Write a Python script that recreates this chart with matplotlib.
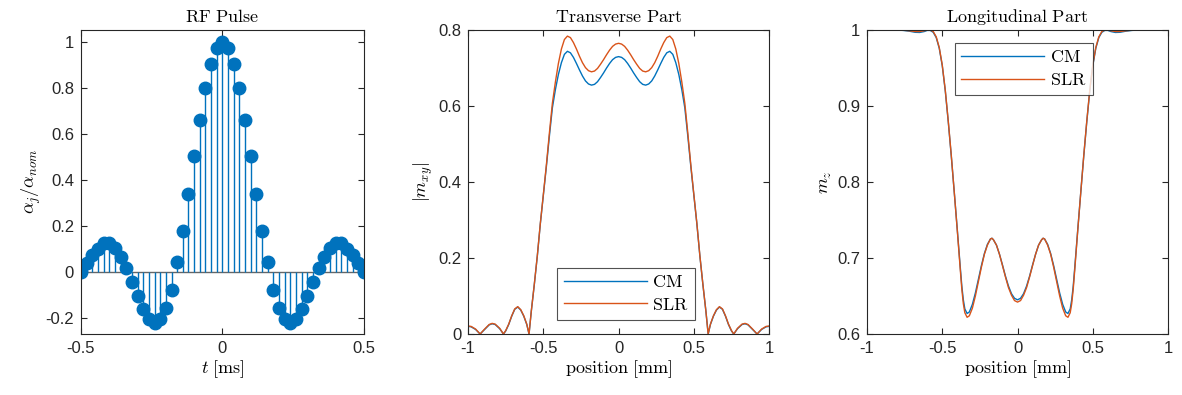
import numpy as np
import matplotlib
matplotlib.use('Agg')
import matplotlib.pyplot as plt
from matplotlib.ticker import FormatStrFormatter

plt.rcParams['mathtext.fontset'] = 'cm'
plt.rcParams['font.family'] = ['Liberation Sans', 'DejaVu Sans']
plt.rcParams['axes.unicode_minus'] = False

# --- RF pulse samples (t >= 0 half, pulse is symmetric) ---
t_half = np.arange(0, 0.501, 0.02)
rf_half = [1.0, 0.974, 0.907, 0.80, 0.663, 0.504, 0.34, 0.182, 0.043,
           -0.075, -0.155, -0.204, -0.22, -0.203, -0.159, -0.104, -0.042,
           0.019, 0.069, 0.106, 0.127, 0.127, 0.103, 0.077, 0.04, 0.0]

# --- transverse profile, position >= 0 half ---
pos_xy = [0, 0.02, 0.04, 0.06, 0.08, 0.10, 0.12, 0.14, 0.16, 0.18, 0.20,
          0.22, 0.24, 0.26, 0.28, 0.30, 0.32, 0.34, 0.36, 0.38, 0.40, 0.42,
          0.44, 0.46, 0.48, 0.50, 0.52, 0.54, 0.56, 0.58, 0.595,
          0.61, 0.63, 0.65, 0.67, 0.69, 0.71, 0.73, 0.75, 0.765,
          0.79, 0.82, 0.84, 0.86, 0.89, 0.92, 0.95, 0.98, 1.0]
mxy_cm = [0.730, 0.728, 0.722, 0.712, 0.700, 0.687, 0.675, 0.664, 0.657,
          0.655, 0.658, 0.666, 0.679, 0.695, 0.712, 0.728, 0.740, 0.744,
          0.736, 0.714, 0.683, 0.643, 0.595, 0.520, 0.440, 0.365, 0.290,
          0.205, 0.130, 0.060, 0.0,
          0.025, 0.047, 0.063, 0.071, 0.065, 0.047, 0.025, 0.008, 0.0,
          0.014, 0.025, 0.027, 0.024, 0.012, 0.0, 0.012, 0.019, 0.020]
mxy_slr = [0.765, 0.763, 0.757, 0.747, 0.735, 0.722, 0.710, 0.699, 0.692,
           0.690, 0.693, 0.701, 0.714, 0.731, 0.750, 0.767, 0.780, 0.784,
           0.775, 0.750, 0.712, 0.663, 0.607, 0.528, 0.444, 0.367, 0.291,
           0.206, 0.131, 0.060, 0.0,
           0.026, 0.048, 0.064, 0.072, 0.066, 0.048, 0.026, 0.009, 0.0,
           0.015, 0.026, 0.028, 0.025, 0.013, 0.0, 0.013, 0.020, 0.021]

# --- longitudinal profile, position >= 0 half ---
pos_mz = [0, 0.02, 0.04, 0.06, 0.08, 0.10, 0.12, 0.14, 0.16, 0.17, 0.18,
          0.20, 0.22, 0.24, 0.26, 0.28, 0.30, 0.32, 0.335, 0.35, 0.36, 0.37,
          0.38, 0.39, 0.40, 0.42, 0.44, 0.46, 0.48, 0.50, 0.52, 0.54, 0.56,
          0.58, 0.60, 0.62, 0.65, 0.68, 0.72, 0.76, 0.80, 0.90, 1.0]
mz_cm = [0.645, 0.647, 0.653, 0.663, 0.676, 0.691, 0.705, 0.717, 0.724,
         0.726, 0.725, 0.718, 0.706, 0.690, 0.672, 0.654, 0.639, 0.629,
         0.627, 0.633, 0.645, 0.663, 0.687, 0.712, 0.737, 0.786, 0.834,
         0.879, 0.920, 0.953, 0.976, 0.990, 0.997, 0.9995, 0.9995, 0.998,
         0.9968, 0.997, 0.9985, 0.9995, 1.0, 1.0, 1.0]
mz_slr = [0.642, 0.644, 0.651, 0.661, 0.675, 0.690, 0.705, 0.717, 0.724,
          0.726, 0.725, 0.717, 0.705, 0.688, 0.669, 0.650, 0.634, 0.624,
          0.622, 0.628, 0.640, 0.659, 0.684, 0.710, 0.736, 0.786, 0.835,
          0.880, 0.921, 0.954, 0.977, 0.991, 0.998, 1.0, 1.0, 0.999,
          0.998, 0.998, 0.999, 0.9998, 1.0, 1.0, 1.0]


def mirror(x, y):
    x = np.asarray(x, float)
    y = np.asarray(y, float)
    return np.concatenate([-x[::-1], x[1:]]), np.concatenate([y[::-1], y[1:]])


t, rf = mirror(t_half, rf_half)
x_xy, cm_xy = mirror(pos_xy, mxy_cm)
_, slr_xy = mirror(pos_xy, mxy_slr)
x_z, cm_z = mirror(pos_mz, mz_cm)
_, slr_z = mirror(pos_mz, mz_slr)

BLUE = '#0072BD'
ORANGE = '#D95319'
GREY = '#262626'

fig = plt.figure(figsize=(11.82, 3.95), dpi=100)
ax1 = fig.add_axes([0.0685, 0.1544, 0.2394, 0.7696])
ax2 = fig.add_axes([0.396, 0.1544, 0.2547, 0.7696])
ax3 = fig.add_axes([0.7335, 0.1544, 0.2547, 0.7696])


def style(ax):
    for s in ax.spines.values():
        s.set_color(GREY)
        s.set_linewidth(0.8)
    ax.tick_params(direction='in', length=4, width=0.8, colors=GREY,
                   labelsize=12, top=True, right=True, pad=5)
    ax.yaxis.set_major_formatter(FormatStrFormatter('%g'))
    ax.xaxis.set_major_formatter(FormatStrFormatter('%g'))


def legend(ax, **kw):
    leg = ax.legend(fontsize=13, handlelength=4.6, fancybox=False,
                    edgecolor=GREY, borderpad=0.35, labelspacing=0.3,
                    handletextpad=0.3, borderaxespad=0, **kw)
    leg.get_frame().set_linewidth(0.8)


# RF pulse stem plot
ml, sl, bl = ax1.stem(t, rf, basefmt=' ')
plt.setp(sl, color=BLUE, linewidth=1.0)
plt.setp(ml, color=BLUE, markersize=9)
ax1.axhline(0, color='#666666', linewidth=1.0, zorder=1)
ax1.set_xlim(-0.5, 0.5)
ax1.set_ylim(-0.268, 1.054)
ax1.set_xticks([-0.5, 0, 0.5])
ax1.set_yticks([-0.2, 0, 0.2, 0.4, 0.6, 0.8, 1])
ax1.set_title(r'$\mathrm{RF\ Pulse}$', fontsize=13, pad=6)
ax1.set_xlabel(r'$t\ \mathrm{[ms]}$', fontsize=13, labelpad=2)
ax1.set_ylabel(r'$\alpha_j/\alpha_{nom}$', fontsize=13, labelpad=2)
style(ax1)

# transverse
ax2.plot(x_xy, cm_xy, color=BLUE, linewidth=1.0, label=r'$\mathrm{CM}$')
ax2.plot(x_xy, slr_xy, color=ORANGE, linewidth=1.0, label=r'$\mathrm{SLR}$')
ax2.set_xlim(-1, 1)
ax2.set_ylim(0, 0.8)
ax2.set_xticks([-1, -0.5, 0, 0.5, 1])
ax2.set_yticks([0, 0.2, 0.4, 0.6, 0.8])
ax2.set_title(r'$\mathrm{Transverse\ Part}$', fontsize=13, pad=6)
ax2.set_xlabel(r'$\mathrm{position\ [mm]}$', fontsize=13, labelpad=2)
ax2.set_ylabel(r'$|m_{xy}|$', fontsize=13, labelpad=2)
style(ax2)
legend(ax2, loc='lower left', bbox_to_anchor=(0.296, 0.046))

# longitudinal
ax3.plot(x_z, cm_z, color=BLUE, linewidth=1.0, label=r'$\mathrm{CM}$')
ax3.plot(x_z, slr_z, color=ORANGE, linewidth=1.0, label=r'$\mathrm{SLR}$')
ax3.set_xlim(-1, 1)
ax3.set_ylim(0.6, 1)
ax3.set_xticks([-1, -0.5, 0, 0.5, 1])
ax3.set_yticks([0.6, 0.7, 0.8, 0.9, 1])
ax3.set_title(r'$\mathrm{Longitudinal\ Part}$', fontsize=13, pad=6)
ax3.set_xlabel(r'$\mathrm{position\ [mm]}$', fontsize=13, labelpad=2)
ax3.set_ylabel(r'$m_z$', fontsize=13, labelpad=2)
style(ax3)
legend(ax3, loc='upper left', bbox_to_anchor=(0.292, 0.957))

fig.savefig('out.png', dpi=100, facecolor='white')
